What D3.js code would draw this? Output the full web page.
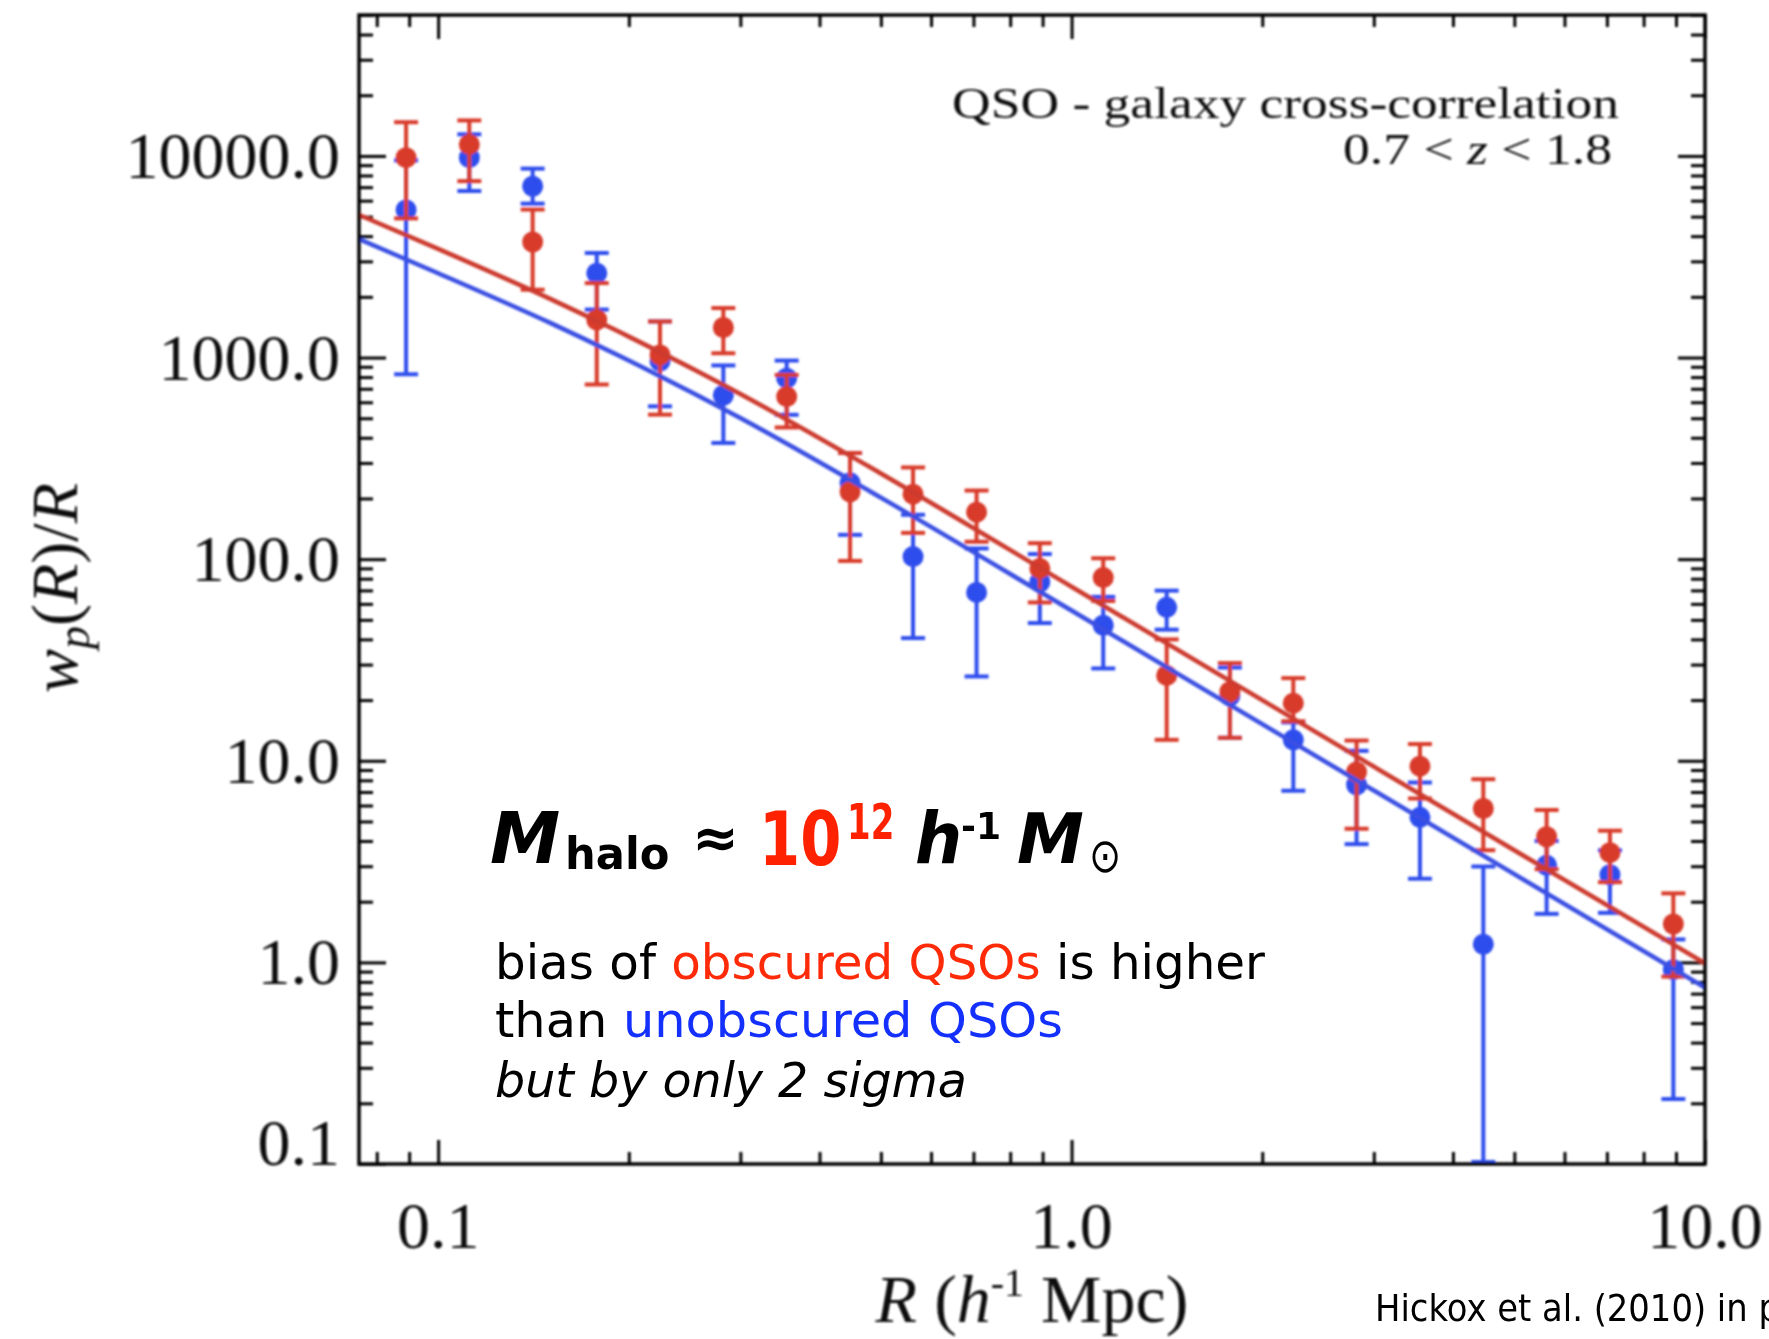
<!DOCTYPE html>
<html>
<head>
<meta charset="utf-8">
<script src="https://cdnjs.cloudflare.com/ajax/libs/d3/7.8.5/d3.min.js"></script>
<style>
  html, body { margin: 0; padding: 0; background: #fff; overflow: hidden; }
  svg { display: block; }
</style>
</head>
<body>
<svg id="chart" width="1769" height="1339"></svg>
<script>
// Projected QSO-galaxy cross-correlation, w_p(R)/R, in bins of R (h^-1 Mpc)
const radius = [0.089, 0.112, 0.141, 0.178, 0.224, 0.282, 0.355, 0.447, 0.562, 0.708,
                0.891, 1.122, 1.413, 1.778, 2.239, 2.818, 3.548, 4.467, 5.623, 7.079, 8.913];

// Obscured QSOs
const obscured    = [9800, 11400, 3740, 1540, 1030, 1410, 640, 216, 210, 171,
                     90, 81, 26.5, 22, 19.3, 8.8, 9.4, 5.8, 4.2, 3.5, 1.55];
const obscuredLo  = [4900, 7500, 2170, 735, 521, 1050, 450, 98, 135, 122,
                     61, 62, 12.7, 13, 15.7, 4.6, 6.5, 3.6, 2.9, 2.5, 0.85];
const obscuredHi  = [14700, 15000, 5420, 2340, 1510, 1760, 820, 336, 285, 219,
                     120, 101, 40, 30.5, 25.7, 12.6, 12.1, 8.1, 5.7, 4.5, 2.2];

// Unobscured QSOs
const unobscured   = [5400, 9800, 7070, 2620, 960, 650, 790, 239, 103, 68.4,
                      77, 47, 57.7, 21, 12.7, 7.6, 5.24, 1.23, 3.03, 2.72, 0.92];
const unobscuredLo = [826, 6700, 5800, 1730, 573, 377, 520, 132, 40.6, 26.2,
                      48.2, 28.7, 44.7, 13, 7.1, 3.86, 2.6, 0.1, 1.74, 1.76, 0.21];
const unobscuredHi = [9500, 12800, 8650, 3300, 1510, 914, 966, 336, 166, 113,
                      106, 65, 69.8, 29, 15.5, 11.2, 7.8, 2.99, 4.0, 3.6, 1.3];

// Halo-model fits for the two samples
const modelR          = [0.075, 0.1, 0.15, 0.2, 0.3, 0.5, 1, 2, 5, 10];
const modelObscured   = [5100, 3460, 1960, 1270, 660, 266, 73, 20, 3.6, 0.99];
const modelUnobscured = [3870, 2620, 1490, 966, 501, 202, 55.6, 15.2, 2.74, 0.75];

// Labelled ticks
const yTickValues = [0.1, 1, 10, 100, 1000, 10000];
const yTickLabels = ["0.1", "1.0", "10.0", "100.0", "1000.0", "10000.0"];
const xTickValues = [0.1, 1, 10];
const xTickLabels = ["0.1", "1.0", "10.0"];

const W = 1769, H = 1339;
const box = { left: 359, right: 1705, top: 15, bottom: 1164 };
const RED = "#d83a2a", BLUE = "#2f4ded";
const RED_LINE = "#cc3a2e", BLUE_LINE = "#3a4fe2";
const SERIF = "'Liberation Serif', 'Times New Roman', serif";
const SANS = "'DejaVu Sans', sans-serif";

const svg = d3.select("#chart");
svg.append("rect").attr("width", W).attr("height", H).attr("fill", "#fff");

const defs = svg.append("defs");
defs.append("filter").attr("id", "soft")
  .attr("filterUnits", "userSpaceOnUse")
  .attr("x", 0).attr("y", 0).attr("width", W).attr("height", H)
  .append("feGaussianBlur").attr("stdDeviation", 0.8);
defs.append("clipPath").attr("id", "plotClip")
  .append("rect")
  .attr("x", box.left).attr("y", box.top)
  .attr("width", box.right - box.left).attr("height", box.bottom - box.top);

const x = d3.scaleLog().domain([0.075, 10]).range([box.left, box.right]);
const y = d3.scaleLog().domain([0.1, 50000]).range([box.bottom, box.top]);

const plot = svg.append("g").attr("filter", "url(#soft)");

// ---- axes: inward ticks on all four sides ----
const isMajor = v => Math.abs(Math.log10(v) - Math.round(Math.log10(v))) < 1e-9;

function addAxis(axis, tx, ty, attr, majorLen, minorLen) {
  const g = plot.append("g")
    .attr("transform", `translate(${tx},${ty})`)
    .call(axis.tickSizeOuter(0).tickSize(minorLen).tickFormat(""));
  g.select(".domain").remove();
  g.selectAll(".tick text").remove();
  g.selectAll(".tick line")
    .attr("stroke", "#000")
    .attr("stroke-width", 3)
    .attr(attr, function (d) {
      const s = Math.sign(+d3.select(this).attr(attr)) || 1;
      return s * (isMajor(d) ? majorLen : minorLen);
    });
}
addAxis(d3.axisRight(y).tickValues(y.ticks()), box.left, 0, "x2", 27, 14);
addAxis(d3.axisLeft(y).tickValues(y.ticks()), box.right, 0, "x2", 27, 14);
addAxis(d3.axisTop(x).tickValues(x.ticks()), 0, box.bottom, "y2", 24, 12);
addAxis(d3.axisBottom(x).tickValues(x.ticks()), 0, box.top, "y2", 24, 12);

// ---- data with error bars (unobscured first, obscured on top) ----
function drawSeries(vals, lo, hi, color) {
  const idx = d3.range(vals.length);
  const g = plot.append("g").attr("clip-path", "url(#plotClip)");
  const capHalf = 12;
  g.selectAll("line.bar").data(idx).join("line").attr("class", "bar")
    .attr("x1", i => x(radius[i])).attr("x2", i => x(radius[i]))
    .attr("y1", i => y(lo[i])).attr("y2", i => y(hi[i]))
    .attr("stroke", color).attr("stroke-width", 4);
  g.selectAll("line.capLo").data(idx).join("line").attr("class", "capLo")
    .attr("x1", i => x(radius[i]) - capHalf).attr("x2", i => x(radius[i]) + capHalf)
    .attr("y1", i => Math.min(y(lo[i]), box.bottom - 2)).attr("y2", i => Math.min(y(lo[i]), box.bottom - 2))
    .attr("stroke", color).attr("stroke-width", 4);
  g.selectAll("line.capHi").data(idx).join("line").attr("class", "capHi")
    .attr("x1", i => x(radius[i]) - capHalf).attr("x2", i => x(radius[i]) + capHalf)
    .attr("y1", i => y(hi[i])).attr("y2", i => y(hi[i]))
    .attr("stroke", color).attr("stroke-width", 4);
  g.selectAll("circle").data(idx).join("circle")
    .attr("cx", i => x(radius[i])).attr("cy", i => y(vals[i]))
    .attr("r", 10.5).attr("fill", color);
}
drawSeries(unobscured, unobscuredLo, unobscuredHi, BLUE);
drawSeries(obscured, obscuredLo, obscuredHi, RED);

// ---- model curves ----
const line = d3.line().x(d => x(d[0])).y(d => y(d[1])).curve(d3.curveMonotoneX);
const curves = plot.append("g").attr("clip-path", "url(#plotClip)");
curves.append("path").datum(d3.zip(modelR, modelUnobscured))
  .attr("d", line).attr("fill", "none").attr("stroke", BLUE_LINE).attr("stroke-width", 4.5);
curves.append("path").datum(d3.zip(modelR, modelObscured))
  .attr("d", line).attr("fill", "none").attr("stroke", RED_LINE).attr("stroke-width", 4.5);

// frame
plot.append("rect")
  .attr("x", box.left).attr("y", box.top)
  .attr("width", box.right - box.left).attr("height", box.bottom - box.top)
  .attr("fill", "none").attr("stroke", "#000").attr("stroke-width", 3.5);

// ---- tick labels ----
plot.append("g").selectAll("text").data(yTickValues).join("text")
  .attr("x", 340)
  .attr("y", (d, i) => i === 0 ? box.bottom + 1 : y(d) + 22)
  .attr("text-anchor", "end")
  .attr("font-family", SERIF).attr("font-size", 66).attr("fill", "#111")
  .text((d, i) => yTickLabels[i]);

plot.append("g").selectAll("text").data(xTickValues).join("text")
  .attr("x", d => x(d))
  .attr("y", 1248)
  .attr("text-anchor", "middle")
  .attr("font-family", SERIF).attr("font-size", 66).attr("fill", "#111")
  .text((d, i) => xTickLabels[i]);

// ---- axis titles ----
const yTitle = plot.append("text")
  .attr("transform", "translate(77,588) rotate(-90)")
  .attr("text-anchor", "middle")
  .attr("font-family", SERIF).attr("font-size", 66).attr("fill", "#111");
yTitle.append("tspan").attr("font-style", "italic").text("w");
yTitle.append("tspan").attr("font-style", "italic").attr("font-size", 46).attr("dy", 12).text("p");
yTitle.append("tspan").attr("dy", -12).text("(");
yTitle.append("tspan").attr("font-style", "italic").text("R");
yTitle.append("tspan").text(")/");
yTitle.append("tspan").attr("font-style", "italic").text("R");

const xTitle = plot.append("text")
  .attr("x", 1032).attr("y", 1322)
  .attr("text-anchor", "middle")
  .attr("font-family", SERIF).attr("font-size", 68).attr("fill", "#111");
xTitle.append("tspan").attr("font-style", "italic").text("R");
xTitle.append("tspan").text(" (");
xTitle.append("tspan").attr("font-style", "italic").text("h");
xTitle.append("tspan").attr("font-size", 40).attr("dy", -26).text("-1");
xTitle.append("tspan").attr("dy", 26).text(" Mpc)");

// ---- panel caption ----
plot.append("text")
  .attr("x", 952).attr("y", 118)
  .attr("textLength", 667).attr("lengthAdjust", "spacingAndGlyphs")
  .attr("font-family", SERIF).attr("font-size", 45).attr("fill", "#111")
  .text("QSO - galaxy cross-correlation");
const zRange = plot.append("text")
  .attr("x", 1343).attr("y", 164)
  .attr("textLength", 269).attr("lengthAdjust", "spacingAndGlyphs")
  .attr("font-family", SERIF).attr("font-size", 45).attr("fill", "#111");
zRange.append("tspan").text("0.7 < ");
zRange.append("tspan").attr("font-style", "italic").text("z");
zRange.append("tspan").text(" < 1.8");

// ---- annotations ----
const note = svg.append("g").attr("font-family", SANS);
// a text piece drawn at (px, py), optionally squeezed horizontally by sx
function piece(txt, px, py, size, opts = {}) {
  return note.append("text")
    .attr("transform", `translate(${px},${py}) scale(${opts.sx || 1},1)`)
    .attr("font-size", size)
    .attr("font-weight", opts.weight || "bold")
    .attr("font-style", opts.italic ? "italic" : "normal")
    .attr("fill", opts.color || "#000")
    .text(txt);
}
piece("M", 490, 863, 72, { italic: true, sx: 0.98 });
piece("halo", 565, 869, 45, { sx: 0.96 });
piece("\u2248", 692, 857, 56);
piece("10", 759, 865, 74, { color: "#ff2200", sx: 0.8 });
piece("12", 847, 839, 50, { color: "#ff2200", sx: 0.68 });
piece("h", 915, 863, 72, { italic: true, sx: 0.92 });
piece("-1", 961, 839, 38, { sx: 0.95 });
piece("M", 1017, 863, 70, { italic: true, sx: 0.96 });
piece("\u2299", 1089, 872, 48, { weight: "normal", sx: 0.8 });

const l1 = note.append("text").attr("x", 495).attr("y", 979)
  .attr("font-size", 48).attr("fill", "#000")
  .attr("textLength", 770).attr("lengthAdjust", "spacingAndGlyphs");
l1.append("tspan").text("bias of ");
l1.append("tspan").attr("fill", "#ff2a08").text("obscured QSOs");
l1.append("tspan").text(" is higher");

const l2 = note.append("text").attr("x", 495).attr("y", 1037)
  .attr("font-size", 48).attr("fill", "#000")
  .attr("textLength", 568).attr("lengthAdjust", "spacingAndGlyphs");
l2.append("tspan").text("than ");
l2.append("tspan").attr("fill", "#1430ff").text("unobscured QSOs");

note.append("text").attr("x", 495).attr("y", 1097)
  .attr("font-size", 48).attr("font-style", "italic").attr("fill", "#000")
  .attr("textLength", 472).attr("lengthAdjust", "spacingAndGlyphs")
  .text("but by only 2 sigma");

note.append("text")
  .attr("transform", "translate(1375,1321) scale(0.89,1)")
  .attr("font-size", 38).attr("fill", "#000")
  .text("Hickox et al. (2010) in prep.");
</script>
</body>
</html>
